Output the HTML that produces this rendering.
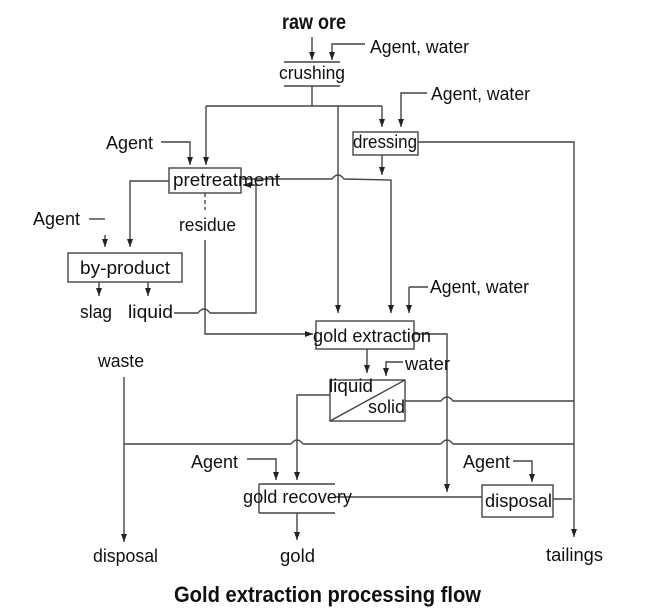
<!DOCTYPE html>
<html><head><meta charset="utf-8"><style>
html,body{margin:0;padding:0;background:#fff;}
svg{display:block;}
text{font-family:"Liberation Sans",sans-serif;fill:#111;font-size:18px;}
</style></head><body>
<svg width="660" height="614" viewBox="0 0 660 614" xmlns="http://www.w3.org/2000/svg">
<defs><marker id="a" markerWidth="8" markerHeight="6" refX="8" refY="3" orient="auto" markerUnits="userSpaceOnUse"><path d="M0,0 L8,3 L0,6 Z" fill="#222"/></marker></defs>
<g stroke="#444" stroke-width="1.4" fill="none">
<line x1="312" y1="37" x2="312" y2="60" marker-end="url(#a)"/>
<polyline points="365,44 332,44 332,60" marker-end="url(#a)"/>
<line x1="284" y1="62" x2="340" y2="62"/><line x1="284" y1="86" x2="340" y2="86"/>
<line x1="312" y1="86" x2="312" y2="106"/>
<line x1="206" y1="106" x2="382" y2="106"/>
<line x1="382" y1="106" x2="382" y2="127" marker-end="url(#a)"/>
<polyline points="427,93 401,93 401,127" marker-end="url(#a)"/>
<rect x="353" y="132" width="65" height="23"/>
<polyline points="418,142 574,142 574,537" marker-end="url(#a)"/>
<line x1="382" y1="155" x2="382" y2="175" marker-end="url(#a)"/>
<path d="M338,106 L338,313" marker-end="url(#a)"/>
<path d="M242,179 L332,179 Q338,171 344,179 L391,180 L391,313" marker-end="url(#a)"/>
<line x1="409" y1="287" x2="428" y2="287"/>
<line x1="409" y1="287" x2="409" y2="313" marker-end="url(#a)"/>
<polyline points="161,142 190,142 190,165" marker-end="url(#a)"/>
<line x1="206" y1="106" x2="206" y2="165" marker-end="url(#a)"/>
<rect x="169" y="168" width="72" height="25"/>
<polyline points="169,181 130,181 130,247" marker-end="url(#a)"/>
<line x1="89" y1="219" x2="105" y2="219"/>
<line x1="105" y1="235" x2="105" y2="247" marker-end="url(#a)"/>
<rect x="68" y="253" width="114" height="29"/>
<line x1="99" y1="282" x2="99" y2="296" marker-end="url(#a)"/>
<line x1="148" y1="282" x2="148" y2="296" marker-end="url(#a)"/>
<line x1="205" y1="193" x2="205" y2="210" stroke-dasharray="4,3"/>
<path d="M205,240 L205,334 L313,334" marker-end="url(#a)"/>
<path d="M174,313 L198,313 Q204,305 210,313 L256,313 L256,185 L243,185" marker-end="url(#a)"/>
<rect x="316" y="321" width="98" height="28"/>
<polyline points="414,334 447,334 447,492" marker-end="url(#a)"/>
<line x1="367" y1="349" x2="367" y2="373" marker-end="url(#a)"/>
<polyline points="403,362 386,362 386,376" marker-end="url(#a)"/>
<rect x="330" y="380" width="75" height="41"/>
<line x1="330" y1="421" x2="405" y2="380"/>
<path d="M330,395 L297,395 L297,480" marker-end="url(#a)"/>
<path d="M405,401 L441,401 Q447,393 453,401 L574,401"/>
<path d="M124,444 L291,444 Q297,436 303,444 L441,444 Q447,436 453,444 L574,444"/>
<line x1="124" y1="377" x2="124" y2="542" marker-end="url(#a)"/>
<polyline points="247,459 276,459 276,480" marker-end="url(#a)"/>
<polyline points="259,484 335,484"/><polyline points="259,513 335,513"/><line x1="259" y1="484" x2="259" y2="513"/>
<line x1="335" y1="497" x2="482" y2="497"/>
<line x1="297" y1="513" x2="297" y2="540" marker-end="url(#a)"/>
<polyline points="513,461 532,461 532,482" marker-end="url(#a)"/>
<rect x="482" y="485" width="71" height="32"/>
<line x1="553" y1="499" x2="572" y2="499"/>
</g>
<g>
<text x="282" y="29" textLength="64" lengthAdjust="spacingAndGlyphs" style="font-size:21px;font-weight:bold">raw ore</text>
<text x="370" y="53" textLength="99" lengthAdjust="spacingAndGlyphs">Agent, water</text>
<text x="279" y="79" textLength="66" lengthAdjust="spacingAndGlyphs">crushing</text>
<text x="431" y="100" textLength="99" lengthAdjust="spacingAndGlyphs">Agent, water</text>
<text x="353" y="148" textLength="64" lengthAdjust="spacingAndGlyphs">dressing</text>
<text x="106" y="149" textLength="47" lengthAdjust="spacingAndGlyphs">Agent</text>
<text x="173" y="186" textLength="107" lengthAdjust="spacingAndGlyphs">pretreatment</text>
<text x="33" y="225" textLength="47" lengthAdjust="spacingAndGlyphs">Agent</text>
<text x="179" y="231" textLength="57" lengthAdjust="spacingAndGlyphs">residue</text>
<text x="80" y="274" textLength="90" lengthAdjust="spacingAndGlyphs">by-product</text>
<text x="80" y="318" textLength="32" lengthAdjust="spacingAndGlyphs">slag</text>
<text x="128" y="318" textLength="45" lengthAdjust="spacingAndGlyphs">liquid</text>
<text x="430" y="293" textLength="99" lengthAdjust="spacingAndGlyphs">Agent, water</text>
<text x="313" y="342" textLength="118" lengthAdjust="spacingAndGlyphs">gold extraction</text>
<text x="98" y="367" textLength="46" lengthAdjust="spacingAndGlyphs">waste</text>
<text x="405" y="370" textLength="45" lengthAdjust="spacingAndGlyphs">water</text>
<text x="329" y="392" textLength="44" lengthAdjust="spacingAndGlyphs">liquid</text>
<text x="368" y="413" textLength="37" lengthAdjust="spacingAndGlyphs">solid</text>
<text x="191" y="468" textLength="47" lengthAdjust="spacingAndGlyphs">Agent</text>
<text x="463" y="468" textLength="47" lengthAdjust="spacingAndGlyphs">Agent</text>
<text x="243" y="503" textLength="109" lengthAdjust="spacingAndGlyphs">gold recovery</text>
<text x="485" y="507" textLength="67" lengthAdjust="spacingAndGlyphs">disposal</text>
<text x="93" y="562" textLength="65" lengthAdjust="spacingAndGlyphs">disposal</text>
<text x="280" y="562" textLength="35" lengthAdjust="spacingAndGlyphs">gold</text>
<text x="546" y="561" textLength="57" lengthAdjust="spacingAndGlyphs">tailings</text>
<text x="174" y="602" textLength="307" lengthAdjust="spacingAndGlyphs" style="font-size:22px;font-weight:bold">Gold extraction processing flow</text>
</g>
</svg>
</body></html>
